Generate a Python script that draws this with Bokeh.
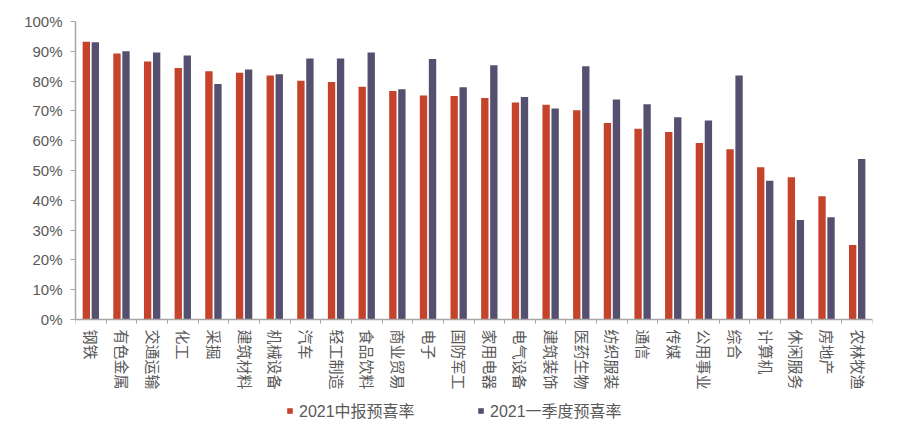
from bokeh.plotting import figure
from bokeh.models import (ColumnDataSource, FixedTicker, NumeralTickFormatter,
                          Legend, LegendItem, Range1d)
from bokeh.transform import dodge
from bokeh.embed import file_html
from bokeh.resources import INLINE

industries = ["钢铁", "有色金属", "交通运输", "化工", "采掘", "建筑材料", "机械设备",
              "汽车", "轻工制造", "食品饮料", "商业贸易", "电子", "国防军工", "家用电器",
              "电气设备", "建筑装饰", "医药生物", "纺织服装", "通信", "传媒", "公用事业",
              "综合", "计算机", "休闲服务", "房地产", "农林牧渔"]
h1_2021 = [0.932, 0.893, 0.866, 0.844, 0.833, 0.828, 0.819, 0.801, 0.797, 0.781,
           0.767, 0.752, 0.750, 0.743, 0.728, 0.721, 0.702, 0.659, 0.640, 0.629,
           0.592, 0.571, 0.511, 0.477, 0.414, 0.250]
q1_2021 = [0.930, 0.900, 0.896, 0.886, 0.790, 0.839, 0.823, 0.876, 0.876, 0.896,
           0.773, 0.874, 0.779, 0.853, 0.747, 0.708, 0.850, 0.738, 0.722, 0.679,
           0.668, 0.819, 0.466, 0.334, 0.343, 0.539]
series_names = ["2021中报预喜率", "2021一季度预喜率"]
y_ticks = [0.0, 0.1, 0.2, 0.3, 0.4, 0.5, 0.6, 0.7, 0.8, 0.9, 1.0]

RED = "#C4432A"
PURPLE = "#55506F"
AXIS = "#A6A6A6"
TXT = "#595959"
FONT = "Liberation Sans, Noto Sans CJK SC"

pos = list(range(len(industries)))
src = ColumnDataSource(dict(x=pos, h1=h1_2021, q1=q1_2021))

# frame spans from top (100%) down to the bottom of the page; 0% sits 105px above the bottom
p = figure(width=893, height=424, x_range=Range1d(-0.5, len(industries) - 0.5),
           y_range=Range1d(-105 / 298, 1), output_backend="svg", toolbar_location=None,
           min_border_left=75, min_border_right=21, min_border_top=21,
           min_border_bottom=0)
p.xgrid.visible = False
p.ygrid.visible = False
p.outline_line_color = None
p.background_fill_color = "white"
p.border_fill_color = "white"

r1 = p.vbar(x=dodge("x", -0.147), top="h1", width=0.24, source=src,
            fill_color=RED, line_color=None)
r2 = p.vbar(x=dodge("x", 0.147), top="q1", width=0.24, source=src,
            fill_color=PURPLE, line_color=None)

xa = p.xaxis[0]
xa.fixed_location = 0
xa.ticker = FixedTicker(ticks=pos, minor_ticks=[i - 0.5 for i in range(len(industries) + 1)])
xa.major_label_overrides = {i: n for i, n in enumerate(industries)}
xa.major_label_orientation = "vertical"
xa.major_tick_out = 0
xa.major_tick_in = 0
xa.minor_tick_out = 4
xa.minor_tick_in = 0
xa.minor_tick_line_color = AXIS
xa.axis_line_color = AXIS
xa.axis_line_width = 1.5
xa.major_label_standoff = 6
xa.major_label_text_font = FONT
xa.major_label_text_font_size = "15px"
xa.major_label_text_color = TXT

ya = p.yaxis[0]
ya.bounds = (0, 1)
ya.ticker = FixedTicker(ticks=y_ticks)
ya.formatter = NumeralTickFormatter(format="0%")
ya.major_tick_out = 5
ya.major_tick_in = 0
ya.minor_tick_out = 0
ya.minor_tick_in = 0
ya.major_tick_line_color = AXIS
ya.axis_line_color = AXIS
ya.axis_line_width = 1.5
ya.major_label_standoff = 8
ya.major_label_text_font = FONT
ya.major_label_text_font_size = "15px"
ya.major_label_text_color = TXT

legend = Legend(items=[LegendItem(label=series_names[0], renderers=[r1]),
                       LegendItem(label=series_names[1], renderers=[r2])],
                location=(211, 2), orientation="horizontal",
                glyph_width=7, glyph_height=7, label_standoff=6, spacing=7,
                label_width=171, label_height=18, padding=0, margin=0,
                border_line_color=None, background_fill_alpha=0,
                label_text_font=FONT, label_text_font_size="16px",
                label_text_color=TXT)
p.add_layout(legend, "center")

open("out.html", "w").write(file_html(p, INLINE))
